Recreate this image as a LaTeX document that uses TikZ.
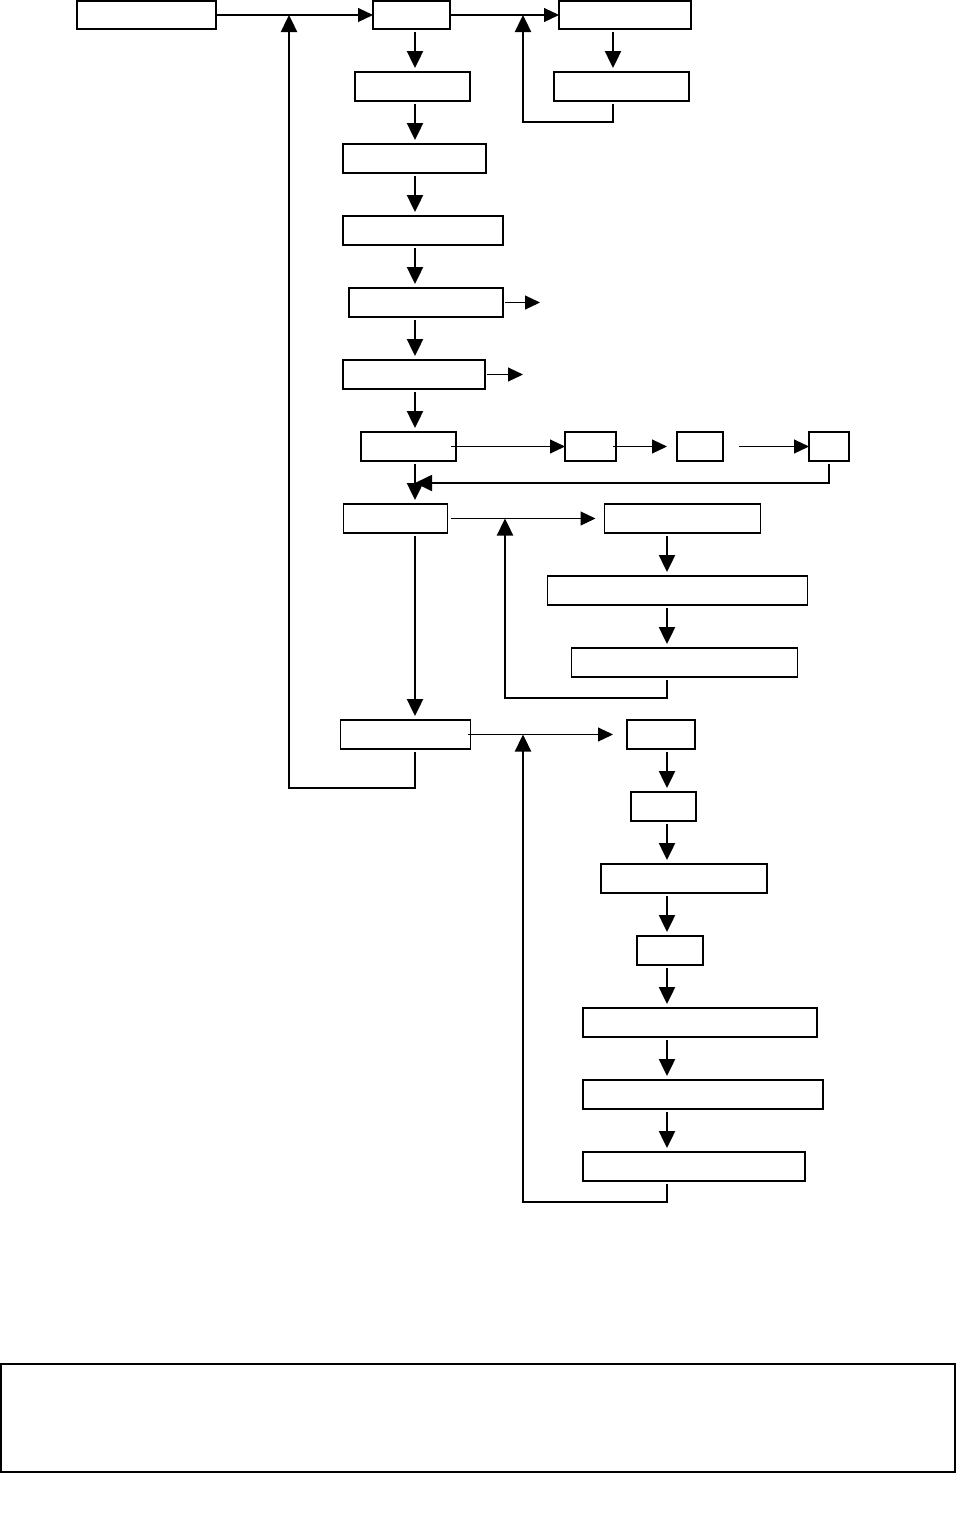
\documentclass[tikz,border=0pt]{standalone}
\usetikzlibrary{arrows.meta,calc}
\begin{document}
\begin{tikzpicture}[x=1pt,y=-1pt,
  box/.style={draw,line width=1.3pt,rectangle,inner sep=0pt,outer sep=0pt},
  tip/.style={-{Triangle[length=15pt,width=14pt]}},
  bigtip/.style={-{Triangle[length=17pt,width=16pt]}},
  varrow/.style={bigtip,line width=2.4pt,shorten <=3pt,shorten >=4pt},
  harrow/.style={tip,line width=1.1pt},
  fback/.style={bigtip,line width=2.4pt,shorten <=3pt}]
\useasboundingbox (0,0) rectangle (956,1527);
% boxes
\node[box,minimum width=139pt,minimum height=28pt] (A) at (146.5,15) {};
\node[box,minimum width=77pt,minimum height=28pt] (B) at (411.5,15) {};
\node[box,minimum width=132pt,minimum height=28pt] (C) at (625,15) {};
\node[box,minimum width=115pt,minimum height=29pt] (D) at (412.5,86.5) {};
\node[box,minimum width=135pt,minimum height=29pt] (E) at (621.5,86.5) {};
\node[box,minimum width=143pt,minimum height=29pt] (F) at (414.5,158.5) {};
\node[box,minimum width=160pt,minimum height=29pt] (G) at (423,230.5) {};
\node[box,minimum width=154pt,minimum height=29pt] (H) at (426,302.5) {};
\node[box,minimum width=142pt,minimum height=29pt] (I) at (414,374.5) {};
\node[box,minimum width=95pt,minimum height=29pt] (J) at (408.5,446.5) {};
\node[box,minimum width=51pt,minimum height=29pt] (K) at (590.5,446.5) {};
\node[box,minimum width=46pt,minimum height=29pt] (L) at (700,446.5) {};
\node[box,minimum width=40pt,minimum height=29pt] (M) at (829,446.5) {};
\node[box,minimum width=104pt,minimum height=29pt] (N) at (395.5,518.5) {};
\node[box,minimum width=156pt,minimum height=29pt] (O) at (682.5,518.5) {};
\node[box,minimum width=260pt,minimum height=29pt] (P) at (677.5,590.5) {};
\node[box,minimum width=226pt,minimum height=29pt] (Q) at (684.5,662.5) {};
\node[box,minimum width=130pt,minimum height=29pt] (R) at (405.5,734.5) {};
\node[box,minimum width=68pt,minimum height=29pt] (S) at (661,734.5) {};
\node[box,minimum width=65pt,minimum height=29pt] (T) at (663.5,806.5) {};
\node[box,minimum width=166pt,minimum height=29pt] (U) at (684,878.5) {};
\node[box,minimum width=66pt,minimum height=29pt] (V) at (670,950.5) {};
\node[box,minimum width=234pt,minimum height=29pt] (W) at (700,1022.5) {};
\node[box,minimum width=240pt,minimum height=29pt] (X) at (703,1094.5) {};
\node[box,minimum width=222pt,minimum height=29pt] (Y) at (694,1166.5) {};
\node[box,minimum width=954pt,minimum height=108pt] (Z) at (478,1418) {};
% columns and helper coordinates
\coordinate (colA) at (415,0);
\coordinate (colB) at (613,0);
\coordinate (colC) at (667,0);
\coordinate (fbR) at (289,788);
\coordinate (fbE) at (523,122);
\coordinate (fbM) at (415,483);
\coordinate (fbQ) at (505,698);
\coordinate (fbY) at (523,1202);
\coordinate (hOut) at (540,302.5);
\coordinate (iOut) at (523,374.5);
% main column
\foreach \a/\b in {B/D,D/F,F/G,G/H,H/I,I/J,J/N,N/R}
  \draw[varrow] (\a.south -| colA) -- (\b.north -| colA);
\draw[varrow] (C.south -| colB) -- (E.north -| colB);
\foreach \a/\b in {O/P,P/Q,S/T,T/U,U/V,V/W,W/X,X/Y}
  \draw[varrow] (\a.south -| colC) -- (\b.north -| colC);
% horizontal arrows
\draw[harrow] (A.east) -- (B.west);
\draw[harrow] (B.east) -- (C.west);
\draw[harrow,shorten <=2pt] (H.east) -- (hOut);
\draw[harrow,shorten <=2pt] (I.east) -- (iOut);
\draw[harrow] ([xshift=-5pt]J.east) -- (K.west);
\draw[harrow,shorten >=10pt] ([xshift=-3pt]K.east) -- (L.west);
\draw[harrow,shorten <=16pt] (L.east) -- (M.west);
\draw[harrow,shorten <=3pt,shorten >=9pt] (N.east) -- (O.west);
\draw[harrow,shorten >=14pt] ([xshift=-3pt]R.east) -- (S.west);
% feedback loops
\draw[fback] (R.south -| colA) |- (fbR) -- (fbR |- A.east);
\draw[fback] (E.south -| colB) |- (fbE) -- (fbE |- B.east);
\draw[bigtip,line width=1.8pt,shorten <=3pt] (M.south) |- (fbM);
\draw[fback] (Q.south -| colC) |- (fbQ) -- (fbQ |- N.east);
\draw[fback] (Y.south -| colC) |- (fbY) -- (fbY |- R.east);
\end{tikzpicture}
\end{document}
